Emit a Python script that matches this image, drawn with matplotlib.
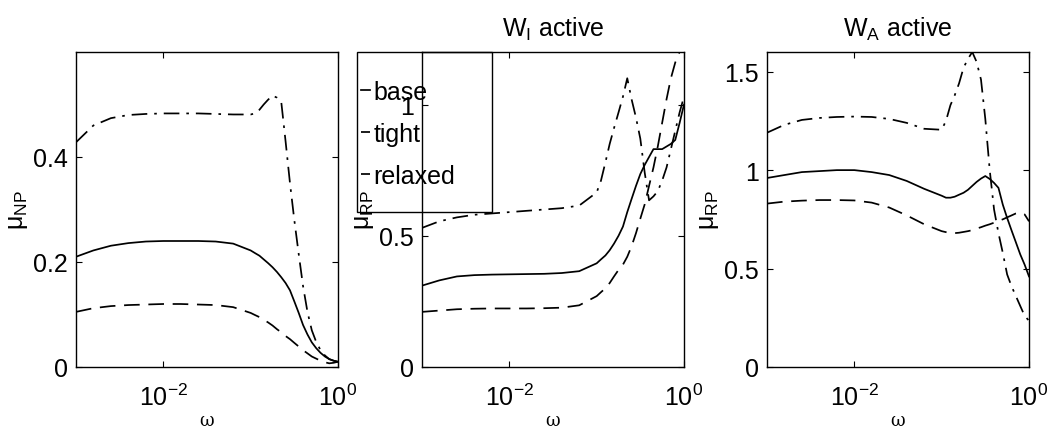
import numpy as np
import matplotlib
matplotlib.use("Agg")
import matplotlib.pyplot as plt
from matplotlib.patches import Rectangle

plt.rcParams['font.family'] = ['Liberation Sans', 'DejaVu Sans']
plt.rcParams['mathtext.default'] = 'regular'

# frequency grid (rad/s)
omega = [0.001, 0.00158, 0.00251, 0.00398, 0.00631, 0.01, 0.0158, 0.0251, 0.0398, 0.0631,
         0.1, 0.112, 0.126, 0.141, 0.158, 0.178, 0.2, 0.224, 0.251, 0.282, 0.316,
         0.355, 0.398, 0.447, 0.501, 0.562, 0.631, 0.708, 0.794, 0.891, 1.0]

series_names = ['base', 'tight', 'relaxed']

# nominal performance
np_base = [0.21, 0.222, 0.231, 0.236, 0.239, 0.24, 0.24, 0.24, 0.239, 0.235,
           0.222, 0.217, 0.212, 0.205, 0.198, 0.19, 0.181, 0.171, 0.16, 0.146, 0.125,
           0.103, 0.08, 0.062, 0.047, 0.036, 0.027, 0.02, 0.015, 0.012, 0.01]
np_tight = [0.105, 0.112, 0.116, 0.118, 0.119, 0.12, 0.12, 0.119, 0.118, 0.114,
            0.103, 0.099, 0.095, 0.09, 0.085, 0.079, 0.072, 0.066, 0.059, 0.053, 0.046,
            0.039, 0.032, 0.026, 0.02, 0.016, 0.012, 0.009, 0.007, 0.008, 0.01]
np_relaxed = [0.428, 0.46, 0.474, 0.48, 0.482, 0.483, 0.483, 0.483, 0.482, 0.481,
              0.481, 0.483, 0.49, 0.5, 0.509, 0.517, 0.513, 0.505, 0.43, 0.35, 0.28,
              0.215, 0.154, 0.105, 0.07, 0.048, 0.032, 0.022, 0.015, 0.012, 0.01]

# robust performance, input weight active
rpi_base = [0.31, 0.33, 0.345, 0.35, 0.352, 0.353, 0.354, 0.355, 0.358, 0.365,
            0.395, 0.41, 0.425, 0.445, 0.47, 0.5, 0.535, 0.59, 0.64, 0.69, 0.735,
            0.77, 0.8, 0.83, 0.83, 0.83, 0.84, 0.85, 0.865, 0.93, 1.0]
rpi_tight = [0.21, 0.215, 0.22, 0.222, 0.223, 0.223, 0.223, 0.224, 0.226, 0.235,
             0.27, 0.285, 0.3, 0.32, 0.345, 0.37, 0.39, 0.42, 0.46, 0.51, 0.565,
             0.62, 0.69, 0.76, 0.84, 0.93, 1.02, 1.1, 1.16, 1.2, 1.24]
rpi_relaxed = [0.53, 0.555, 0.57, 0.58, 0.585, 0.59, 0.595, 0.6, 0.605, 0.615,
               0.665, 0.71, 0.78, 0.85, 0.91, 0.97, 1.03, 1.1, 1.02, 0.95, 0.87,
               0.74, 0.635, 0.65, 0.67, 0.71, 0.76, 0.83, 0.9, 0.97, 1.03]

# robust performance, additive weight active
rpa_base = [0.96, 0.975, 0.99, 0.995, 1.0, 1.0, 0.99, 0.975, 0.945, 0.905,
            0.87, 0.86, 0.86, 0.865, 0.875, 0.885, 0.9, 0.92, 0.94, 0.957, 0.97,
            0.955, 0.935, 0.91, 0.825, 0.757, 0.694, 0.633, 0.572, 0.52, 0.46]
rpa_tight = [0.83, 0.84, 0.845, 0.848, 0.848, 0.846, 0.835, 0.81, 0.77, 0.725,
             0.69, 0.685, 0.68, 0.68, 0.682, 0.686, 0.69, 0.695, 0.703, 0.71, 0.718,
             0.725, 0.733, 0.742, 0.75, 0.76, 0.77, 0.78, 0.785, 0.775, 0.74]
rpa_relaxed = [1.19, 1.23, 1.255, 1.265, 1.27, 1.272, 1.27, 1.26, 1.24, 1.21,
               1.205, 1.25, 1.33, 1.38, 1.44, 1.52, 1.565, 1.6, 1.55, 1.46, 1.26,
               1.0, 0.8, 0.68, 0.58, 0.47, 0.41, 0.36, 0.31, 0.26, 0.235]

panels = [
    dict(data=[np_base, np_tight, np_relaxed], ylim=(0, 0.6), yticks=[0, 0.2, 0.4],
         yticklabels=['0', '0.2', '0.4'], ylabel='μ$_{NP}$', title=None),
    dict(data=[rpi_base, rpi_tight, rpi_relaxed], ylim=(0, 1.2), yticks=[0, 0.5, 1],
         yticklabels=['0', '0.5', '1'], ylabel='μ$_{RP}$', title='W$_I$ active'),
    dict(data=[rpa_base, rpa_tight, rpa_relaxed], ylim=(0, 1.6), yticks=[0, 0.5, 1, 1.5],
         yticklabels=['0', '0.5', '1', '1.5'], ylabel='μ$_{RP}$', title='W$_A$ active'),
]

styles = ['-', (0, (9, 5)), (0, (9, 4, 1.5, 4))]

W, H = 1050, 427
fig = plt.figure(figsize=(W / 100, H / 100), dpi=100)
lefts = [76 / W, 422 / W, 767 / W]
bottom = 1 - 368 / H
height = 315 / H
width = 262 / W

axes = []
for left, p in zip(lefts, panels):
    ax = fig.add_axes([left, bottom, width, height])
    lines = []
    for vals, ls, name in zip(p['data'], styles, series_names):
        ln, = ax.plot(omega, vals, color='black', lw=1.25, linestyle=ls, label=name)
        lines.append(ln)
    ax.set_xscale('log')
    ax.set_xlim(1e-3, 1)
    ax.set_ylim(*p['ylim'])
    ax.set_xticks([1e-2, 1])
    ax.set_xticklabels(['10$^{-2}$', '10$^{0}$'])
    ax.xaxis.set_minor_locator(matplotlib.ticker.NullLocator())
    ax.set_yticks(p['yticks'])
    ax.set_yticklabels(p['yticklabels'])
    ax.tick_params(direction='in', top=True, right=True, labelsize=18, length=4, width=0.8)
    ax.tick_params(axis='y', pad=6)
    ax.tick_params(axis='x', pad=12)
    ax.set_xlabel('ω', fontsize=13, family='DejaVu Serif', labelpad=1)
    ax.set_ylabel(p['ylabel'], fontsize=18, labelpad=2)
    if p['title']:
        ax.set_title(p['title'], fontsize=18, pad=12)
    for s in ax.spines.values():
        s.set_linewidth(1.0)
    axes.append((ax, lines))

# legend of the middle panel, with its box drawn separately
ax2, lines2 = axes[1]
leg = ax2.legend(lines2, series_names, loc='upper left',
                 bbox_to_anchor=(361 / W, 1 - 81 / H), bbox_transform=fig.transFigure,
                 fontsize=18, handlelength=0.35, handletextpad=0.15, borderpad=0,
                 labelspacing=0.71, borderaxespad=0, frameon=False)
fig.add_artist(Rectangle((357 / W, 1 - 213 / H), (492 - 357) / W, (213 - 53) / H,
                         transform=fig.transFigure, fill=False, edgecolor='black',
                         linewidth=1.0))

fig.savefig('out.png', dpi=100, facecolor='white')
